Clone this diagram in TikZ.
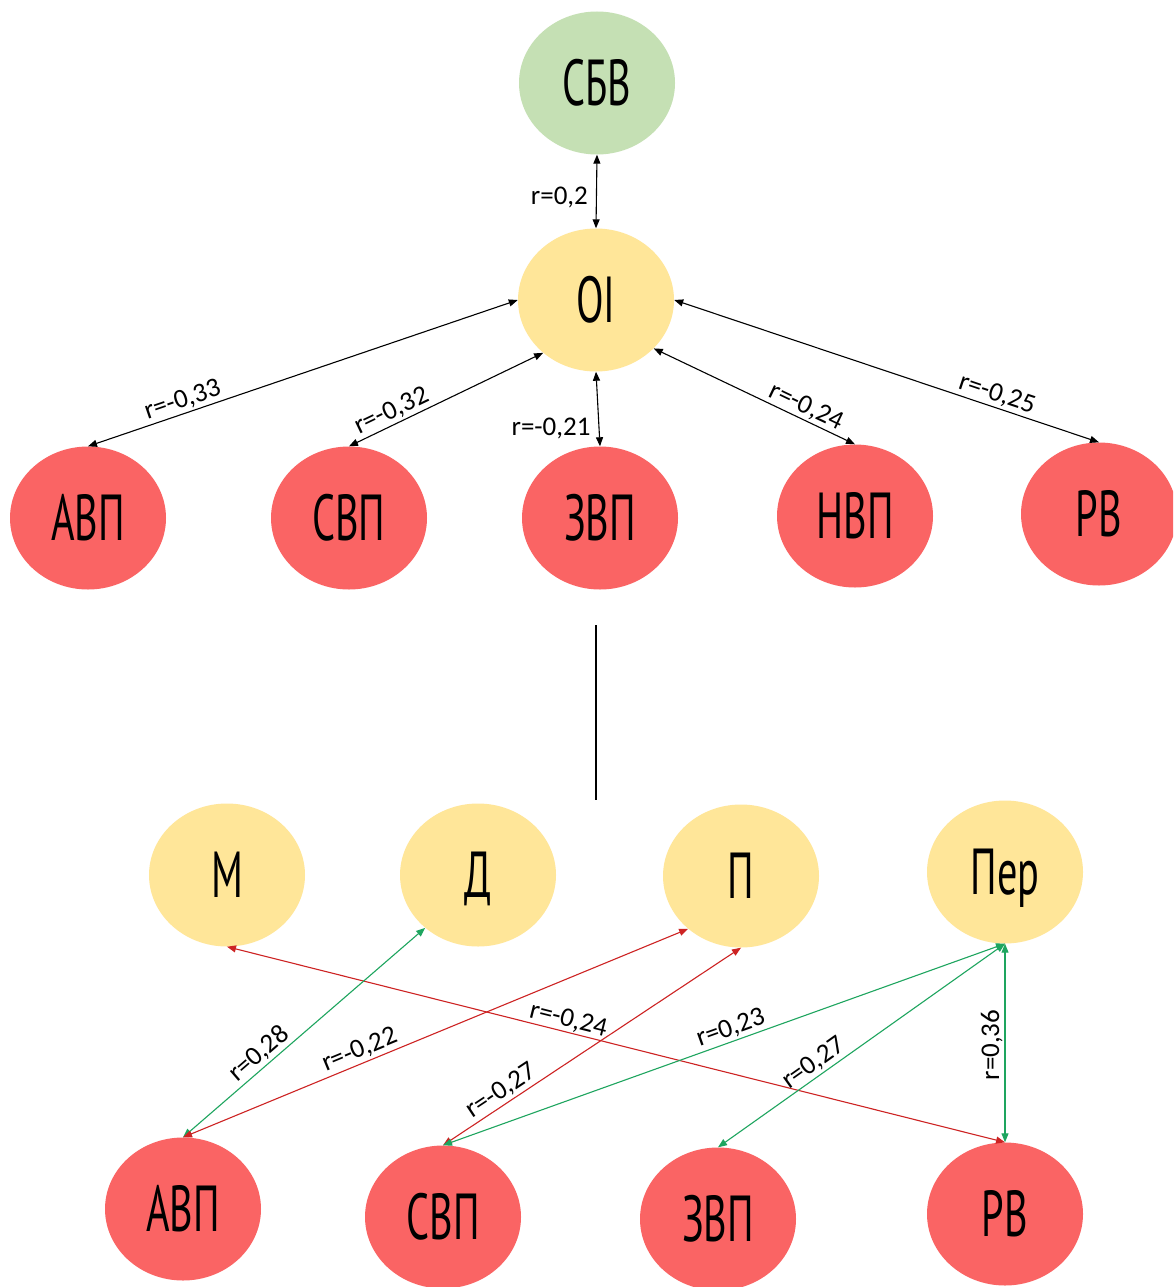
\documentclass[tikz,border=0pt]{standalone}
\usepackage{fontspec}
\setmainfont{Carlito}
\newfontfamily\nodefont[FakeStretch=0.62]{PT Sans}
\usetikzlibrary{arrows.meta,shapes.geometric}
\definecolor{cgreen}{RGB}{197,224,180}
\definecolor{cyellow}{RGB}{255,230,153}
\definecolor{cred}{RGB}{250,100,100}
\definecolor{lred}{RGB}{205,35,35}
\definecolor{lgreen}{RGB}{30,165,95}
\begin{document}
\begin{tikzpicture}[x=1pt,y=-1pt,
  bub/.style={ellipse, minimum width=156pt, minimum height=143pt, inner sep=0pt,
    text height=45pt, text depth=0pt, font=\nodefont\fontsize{65}{68}\selectfont},
  gbub/.style={bub, fill=cgreen},
  ybub/.style={bub, fill=cyellow},
  rbub/.style={bub, fill=cred},
  tip/.tip={Triangle[length=9pt,width=7pt]},
  blk/.style={draw=black, line width=1.1pt, tip-tip},
  rbi/.style={draw=lred, line width=1.1pt, tip-tip},
  gbi/.style={draw=lgreen, line width=1.1pt, tip-tip},
  lbl/.style={font=\fontsize{27}{30}\selectfont, text=black, inner sep=2pt}]
\useasboundingbox (0,0) rectangle (1173,1287);
\clip (0,0) rectangle (1173,1287);
\fill[white] (0,0) rectangle (1173,1287);

% top part
\node[gbub] (sbv) at (597,83) {СБВ};
\node[ybub] (oi) at (596,300) {OI};
\node[rbub] (avp) at (88,518) {АВП};
\node[rbub] (svp) at (349,518) {СВП};
\node[rbub] (zvp) at (600,518) {ЗВП};
\node[rbub] (nvp) at (855,516) {НВП};
\node[rbub] (rv) at (1099,514) {РВ};

\draw[blk] (sbv.south) -- node[lbl,pos=.58,left=6pt] {r=0,2} (oi.north);
\draw[blk] (oi.west) -- node[lbl,pos=.77,sloped,above] {r=-0,33} (avp.north);
\draw[blk] (oi.225) -- node[lbl,pos=.75,sloped,above] {r=-0,32} (svp.north);
\draw[blk] (oi.south) -- node[lbl,pos=.76,left=6pt] {r=-0,21} (zvp.north);
\draw[blk] (oi.-40) -- node[lbl,pos=.73,sloped,above] {r=-0,24} (nvp.north);
\draw[blk] (oi.east) -- node[lbl,pos=.75,sloped,above] {r=-0,25} (rv.north);

% separator
\coordinate (vt) at (596,625);
\coordinate (vb) at (596,800);
\draw[line width=1.1pt] (vt) -- (vb);

% bottom part
\node[ybub] (m) at (227,875) {М};
\node[ybub] (d) at (478,875) {Д};
\node[ybub] (p) at (741,876) {П};
\node[ybub] (per) at (1005,872) {Пер};
\node[rbub] (avp2) at (183,1209) {АВП};
\node[rbub] (svp2) at (443,1217) {СВП};
\node[rbub] (zvp2) at (718,1219) {ЗВП};
\node[rbub] (rv2) at (1005,1214) {РВ};

\draw[rbi] (m.south) -- node[lbl,pos=.435,sloped,above,inner sep=1pt] {r=-0,24} (rv2.north);
\draw[gbi] (d.225) -- node[lbl,pos=.65,sloped,above] {r=0,28} (avp2.north);
\draw[rbi] (p.225) -- node[lbl,pos=.64,sloped,above] {r=-0,22} (avp2.north);
\draw[rbi] (p.south) -- node[lbl,pos=.78,sloped,above] {r=-0,27} (svp2.north);
\draw[gbi] (per.south) -- node[lbl,pos=.48,sloped,above] {r=0,23} (svp2.north);
\draw[gbi] (per.south) -- node[lbl,pos=.64,sloped,above] {r=0,27} (zvp2.north);
\draw[gbi] (per.south) -- node[lbl,pos=.51,rotate=90,anchor=south] {r=0,36} (rv2.north);
\end{tikzpicture}
\end{document}
